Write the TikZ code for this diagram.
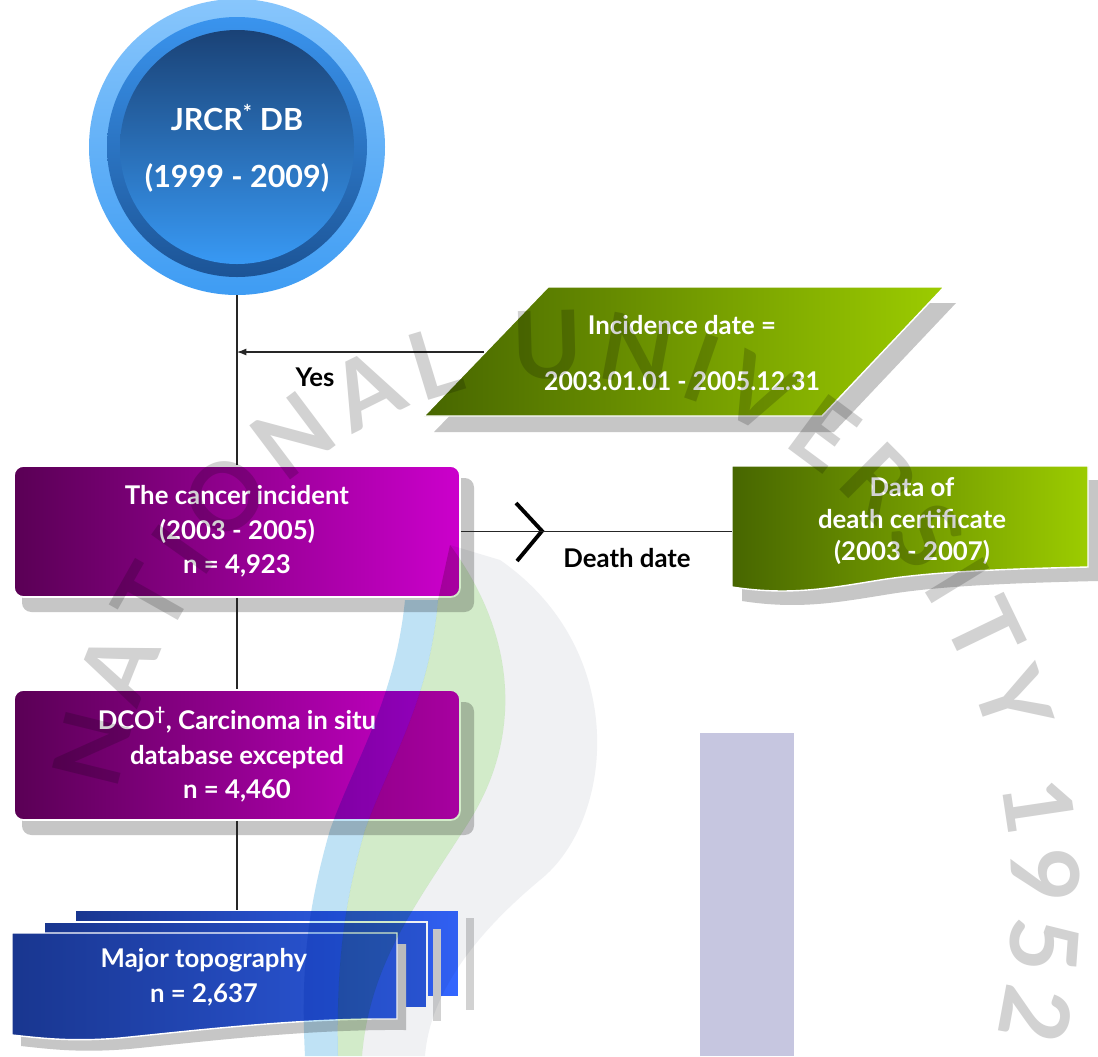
\documentclass[tikz,border=0pt]{standalone}
\usepackage{fontspec}
\setmainfont{Lato}
\usetikzlibrary{arrows.meta,decorations.text}
\definecolor{cOutT}{HTML}{88C6FC}
\definecolor{cOutB}{HTML}{3E9CF3}
\definecolor{cRingT}{HTML}{3A94EE}
\definecolor{cRingB}{HTML}{1C5496}
\definecolor{cInT}{HTML}{1A4276}
\definecolor{cInB}{HTML}{3899F4}
\definecolor{gL}{HTML}{476600}
\definecolor{gR}{HTML}{9CCC00}
\definecolor{pL}{HTML}{5A0055}
\definecolor{pR}{HTML}{CC00CC}
\definecolor{bL}{HTML}{19368F}
\definecolor{bR}{HTML}{2B58DC}
\definecolor{bR2}{HTML}{3366FF}
\definecolor{shadowgray}{HTML}{C6C6C6}
\definecolor{shadowlight}{HTML}{D2D2D2}
\definecolor{wmgray}{HTML}{F0F1F3}
\definecolor{wmgreen}{HTML}{D2EBC9}
\definecolor{wmblue}{HTML}{BFE2F5}
\definecolor{wmlav}{HTML}{C6C6E0}
\definecolor{wmtext}{HTML}{D2D2D2}
\begin{document}
\begin{tikzpicture}[x=0.03cm,y=-0.03cm,
  wt/.style={text=white,font=\fontsize{22}{29}\selectfont\bfseries,align=center,inner sep=0pt},
  bt/.style={text=black,font=\fontsize{22}{29}\selectfont\bfseries,inner sep=0pt},
  conn/.style={draw=black!85,line width=0.9pt},
  boxp/.style={draw=white,line width=1.5pt,rounded corners=8pt,left color=pL,right color=pR,
    minimum width=13.38cm,inner sep=0pt,text=white,font=\fontsize{22}{29.5}\selectfont\bfseries,align=center}]
\useasboundingbox (0,0) rectangle (1098,1056);
\fill[white] (0,0) rectangle (1098,1056);
\fill[wmlav] (700,733) rectangle (794,1056);

% database circle
\shade[top color=cOutT,bottom color=cOutB] (237,147) circle (148);
\shade[top color=cRingT,bottom color=cRingB] (237,147) circle (130);
\shade[top color=cInT,bottom color=cInB] (237,147) circle (117);
\node[circle,minimum size=8.88cm,inner sep=0pt] (db) at (237,147) {};
\node[wt,font=\fontsize{26}{48}\selectfont\bfseries] (dbt) at (237,148) {JRCR\textsuperscript{*} DB\\(1999 - 2009)};

% incidence date parallelogram
\fill[shadowgray] (559,303) -- (956,303) -- (834,432) -- (434,432) -- cycle;
\shade[left color=gL,right color=gR,draw=white,line width=1.2pt] (548,287) -- (944,287) -- (822,416) -- (424,416) -- cycle;
\coordinate (incL) at (484,352);
\node[wt,font=\fontsize{22}{47}\selectfont\bfseries] (inc) at (682,353) {Incidence date =\\\addfontfeatures{FakeStretch=0.965}2003.01.01 - 2005.12.31};
\node[bt] (yes) at (315,377) {Yes};

% box 1
\fill[shadowgray,rounded corners=8pt] (22,478) rectangle (474,612);
\node[boxp,minimum height=3.93cm] (box1) at (237,531.5) {The cancer incident\\(2003 - 2005)\\n = 4,923};

% death certificate document
\fill[shadowgray,shift={(10,14)}] (732,466) -- (1088,466) -- (1088,567) .. controls (1000,569) and (930,572) .. (880,580) .. controls (830,588) and (790,596) .. (732,587) -- cycle;
\shade[left color=gL,right color=gR,draw=white,line width=1.2pt] (732,466) -- (1088,466) -- (1088,567) .. controls (1000,569) and (930,572) .. (880,580) .. controls (830,588) and (790,596) .. (732,587) -- cycle;
\coordinate (dcL) at (732,531);
\node[wt,font=\fontsize{22}{27}\selectfont\bfseries] (dc) at (912,521) {Data of\\death certificate\\(2003 - 2007)};
\draw[line width=3.3pt] (516,503) -- (542,531) -- (517,561);
\node[bt] (dd) at (627,558) {Death date};

% box 2
\fill[shadowgray,rounded corners=8pt] (22,702) rectangle (474,835);
\node[boxp,minimum height=3.9cm] (box2) at (237,755) {DCO\textsuperscript{†}, Carcinoma in situ\\database excepted\\n = 4,460};

% multi-document
\fill[shadowlight] (466,918) rectangle (474,1010);
\shade[left color=bL,right color=bR2,draw=white,line width=1.2pt] (75,910) rectangle (459,997);
\fill[shadowlight] (433,929) rectangle (441,1021);
\shade[left color=bL,right color=bR,draw=white,line width=1.2pt] (44,922) rectangle (427,1008);
\fill[shadowgray,shift={(9,11)}] (12,933) -- (397,933) -- (397,1019) .. controls (300,1018) and (200,1030) .. (120,1038) .. controls (70,1042) and (40,1038) .. (12,1035) -- cycle;
\shade[left color=bL,right color=bR,draw=white,line width=1.2pt] (12,933) -- (397,933) -- (397,1019) .. controls (300,1018) and (200,1030) .. (120,1038) .. controls (70,1042) and (40,1038) .. (12,1035) -- cycle;
\coordinate (docTop) at (237,910);
\node[wt,font=\fontsize{22}{30}\selectfont\bfseries] (topo) at (204,977) {Major topography\\n = 2,637};

% connectors
\draw[conn] (db.south) -- (db.south |- box1.north);
\draw[conn,-{Latex[length=8pt,width=6pt]}] (incL) -- (incL -| db.south);
\draw[conn] (box1.east) -- (box1.east -| dcL);
\draw[conn] (box1.south) -- (box2.north);
\draw[conn] (box2.south) -- (docTop);

% translucent watermark laid over the diagram
\begin{scope}[blend mode=multiply]
  \fill[wmgray] (500,560) .. controls (630,650) and (615,820) .. (540,880) .. controls (480,930) and (430,990) .. (425,1056) -- (362,1056) .. controls (370,960) and (420,900) .. (470,820) .. controls (520,740) and (520,640) .. (450,545) -- cycle;
  \fill[wmgreen] (450,545) .. controls (520,640) and (520,740) .. (470,820) .. controls (420,900) and (370,960) .. (362,1056) -- (338,1056) .. controls (336,960) and (345,900) .. (365,830) .. controls (390,760) and (430,700) .. (438,600) -- cycle;
  \fill[wmblue] (438,600) .. controls (430,700) and (390,760) .. (365,830) .. controls (345,900) and (336,960) .. (338,1056) -- (305,1056) .. controls (300,960) and (310,900) .. (330,830) .. controls (355,760) and (395,700) .. (405,600) -- cycle;
  \begin{scope}[y=0.03cm]
    \path[decorate,decoration={text along path,text align=fit to path,
        text={|\fontsize{80}{80}\selectfont\bfseries\color{wmtext}|NATIONAL UNIVERSITY 1952}}]
      ([shift={(168:452 and 522)}]560,-900) arc[start angle=168,end angle=-15,x radius=452,y radius=522];
  \end{scope}
\end{scope}
\end{tikzpicture}
\end{document}
